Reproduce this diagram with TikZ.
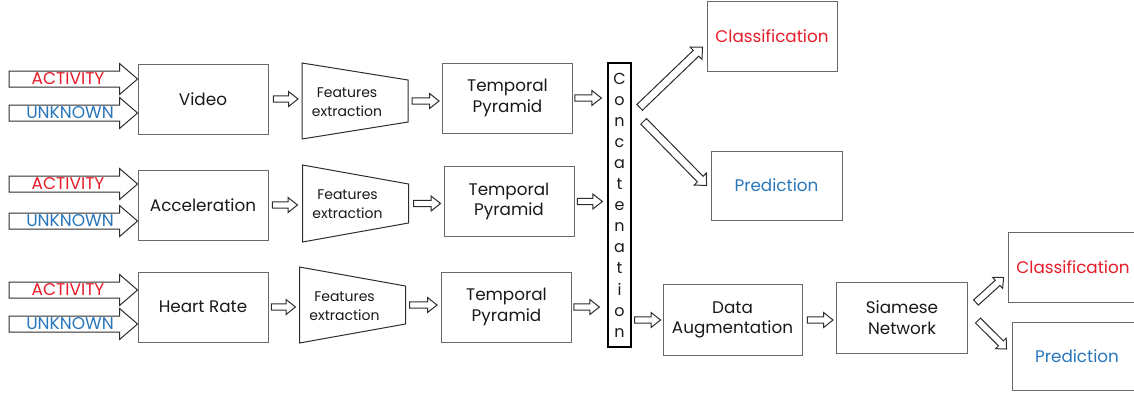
\documentclass[tikz,border=0pt]{standalone}
\usepackage{fontspec}
\setmainfont{Poppins}
\usetikzlibrary{calc}

\definecolor{actred}{RGB}{232,28,40}
\definecolor{unkblue}{RGB}{40,118,188}
\definecolor{boxline}{RGB}{105,105,105}
\definecolor{arrline}{RGB}{45,45,45}
\definecolor{txt}{RGB}{25,25,25}

\tikzset{
  box/.style={draw=boxline, line width=0.9pt, minimum width=130pt, minimum height=70pt,
    align=center, text=txt, font=\fontsize{16.8}{20.5}\selectfont, inner sep=2pt},
  fetext/.style={align=center, text=txt, font=\fontsize{14}{19}\selectfont, inner sep=0pt},
  trapline/.style={draw=arrline, line width=1pt, line join=miter},
  harrow/.style={draw=arrline, line width=1pt, fill=white, line join=miter},
  tag/.style={font=\fontsize{17}{19}\selectfont, inner sep=0pt},
  concatbox/.style={draw=black, line width=1.3pt, minimum width=23pt, minimum height=284pt,
    inner sep=0pt, align=center, font=\fontsize{16}{21.1}\selectfont, text=txt},
}

% hollow block arrow: [style]{from}{to}{start gap}{end gap}{half shaft}{half head}{head length}
\newcommand\hollowarrow[8][]{%
  \coordinate (ha-s) at ($(#2)!#4!(#3)$);
  \coordinate (ha-e) at ($(#3)!#5!(#2)$);
  \coordinate (ha-b) at ($(ha-e)!#8!(ha-s)$);
  \draw[harrow,#1]
    ($(ha-s)!#6!90:(ha-e)$) -- ($(ha-b)!#6!90:(ha-e)$) -- ($(ha-b)!#7!90:(ha-e)$) -- (ha-e)
    -- ($(ha-b)!#7!-90:(ha-e)$) -- ($(ha-b)!#6!-90:(ha-e)$) -- ($(ha-s)!#6!-90:(ha-e)$) -- cycle;
}

% feature extraction block: {name}{centre x}{centre y}{left half height}{right half height}
\newcommand\featurebox[5]{%
  \coordinate (#1) at (#2,#3);
  \draw[trapline] ($(#1)+(-53,-#4)$) -- ($(#1)+(53,-#5)$) -- ($(#1)+(53,#5)$)
    -- ($(#1)+(-53,#4)$) -- cycle;
  \coordinate (#1-w) at ($(#1)+(-53,0)$);
  \coordinate (#1-e) at ($(#1)+(53,0)$);
  \node[fetext] (#1-t) at ($(#1)+(-8,1)$) {Features\\extraction};
}

\begin{document}
\begin{tikzpicture}[x=1pt,y=-1pt]
\useasboundingbox (0,0) rectangle (1134,392);

% sensor sources
\node[box] (video) at (203,99) {Video};
\node[box] (accel) at (203,205) {Acceleration};
\node[box] (heart) at (203,307) {Heart Rate};

% input streams
\coordinate (in1a) at (9,79);
\coordinate (in1u) at (9,113);
\coordinate (in2a) at (9,184);
\coordinate (in2u) at (9,221);
\coordinate (in3a) at (9,290);
\coordinate (in3u) at (9,324);
\hollowarrow{in1a}{in1a -| video.west}{0pt}{0pt}{8pt}{15.5pt}{18pt}
\hollowarrow{in1u}{in1u -| video.west}{0pt}{0pt}{8pt}{15.5pt}{18pt}
\hollowarrow{in2a}{in2a -| accel.west}{0pt}{0pt}{8pt}{15.5pt}{18pt}
\hollowarrow{in2u}{in2u -| accel.west}{0pt}{0pt}{8pt}{15.5pt}{18pt}
\hollowarrow{in3a}{in3a -| heart.west}{0pt}{0pt}{8pt}{15.5pt}{18pt}
\hollowarrow{in3u}{in3u -| heart.west}{0pt}{0pt}{8pt}{15.5pt}{18pt}
\node[tag, text=actred] (lbl1a) at ($(in1a)+(59,0)$) {ACTIVITY};
\node[tag, text=unkblue] (lbl1u) at ($(in1u)+(61,0)$) {UNKNOWN};
\node[tag, text=actred] (lbl2a) at ($(in2a)+(59,0)$) {ACTIVITY};
\node[tag, text=unkblue] (lbl2u) at ($(in2u)+(61,0)$) {UNKNOWN};
\node[tag, text=actred] (lbl3a) at ($(in3a)+(59,0)$) {ACTIVITY};
\node[tag, text=unkblue] (lbl3u) at ($(in3u)+(61,0)$) {UNKNOWN};

% feature extraction
\featurebox{fe1}{355}{101}{38}{21}
\featurebox{fe2}{355.5}{203.5}{38.5}{19.5}
\featurebox{fe3}{352.5}{305}{38}{19}

% temporal pyramids
\node[box] (tp1) at (507.5,98) {Temporal\\Pyramid};
\node[box] (tp2) at (509,201.5) {Temporal\\Pyramid};
\node[box] (tp3) at (506.5,307) {Temporal\\Pyramid};

% concatenation
\node[concatbox] (concat) at (619.5,205) {C\\o\\n\\c\\a\\t\\e\\n\\a\\t\\i\\o\\n};

% outputs
\node[box, text=actred] (class1) at (772,36) {Classification};
\node[box, text=unkblue, minimum width=131pt, minimum height=69pt] (pred1) at (776.5,185.5) {Prediction};
\node[box, minimum width=139pt, minimum height=71pt] (augment) at (732.5,320) {Data\\Augmentation};
\node[box, minimum width=131pt, minimum height=71pt] (siamese) at (902,317.5) {Siamese\\Network};
\node[box, text=actred] (class2) at (1073,267.5) {Classification};
\node[box, text=unkblue, minimum height=68pt] (pred2) at (1077,356) {Prediction};

% row connectors
\hollowarrow{video.east}{video.east -| fe1-w}{5pt}{4pt}{3.2pt}{7.5pt}{9.5pt}
\hollowarrow{fe1-e}{fe1-e -| tp1.west}{4pt}{3pt}{3.2pt}{7.5pt}{9.5pt}
\hollowarrow{tp1.east}{tp1.east -| concat.west}{2pt}{6pt}{3.2pt}{7.5pt}{9.5pt}
\hollowarrow{accel.east}{accel.east -| fe2-w}{4pt}{5pt}{3.2pt}{7.5pt}{9.5pt}
\hollowarrow{fe2-e}{fe2-e -| tp2.west}{5pt}{3pt}{3.2pt}{7.5pt}{9.5pt}
\hollowarrow{tp2.east}{tp2.east -| concat.west}{3pt}{5pt}{3.2pt}{7.5pt}{9.5pt}
\hollowarrow{heart.east}{heart.east -| fe3-w}{3pt}{4pt}{3.2pt}{7.5pt}{9.5pt}
\hollowarrow{fe3-e}{fe3-e -| tp3.west}{4pt}{4pt}{3.2pt}{7.5pt}{9.5pt}
\hollowarrow{tp3.east}{tp3.east -| concat.west}{2pt}{8pt}{3.2pt}{7.5pt}{9.5pt}

% concatenation to direct outputs
\coordinate (c-up) at ($(concat.north east)+(8,45)$);
\coordinate (c-dn) at ($(concat.north east)+(12,59)$);
\coordinate (class1-in) at ($(class1.west)+(-4,11)$);
\coordinate (pred1-in) at ($(pred1.west)+(-4,0)$);
\hollowarrow{c-up}{class1-in}{0pt}{0pt}{4pt}{8.5pt}{9pt}
\hollowarrow{c-dn}{pred1-in}{0pt}{0pt}{4pt}{8.5pt}{9pt}

% siamese branch
\hollowarrow{concat.east |- augment.west}{augment.west}{3pt}{2pt}{3.2pt}{7.5pt}{9.5pt}
\hollowarrow{augment.east}{augment.east -| siamese.west}{5pt}{3pt}{3.2pt}{7.5pt}{9.5pt}
\coordinate (s-up) at ($(siamese.east)+(8,-15)$);
\coordinate (s-dn) at ($(siamese.east)+(10,3)$);
\coordinate (class2-in) at ($(class2.west)+(-4,10)$);
\coordinate (pred2-in) at ($(pred2.west)+(-5,-7)$);
\hollowarrow{s-up}{class2-in}{0pt}{0pt}{3.5pt}{7.5pt}{8pt}
\hollowarrow{s-dn}{pred2-in}{0pt}{0pt}{3.5pt}{7.5pt}{8pt}
\end{tikzpicture}
\end{document}
